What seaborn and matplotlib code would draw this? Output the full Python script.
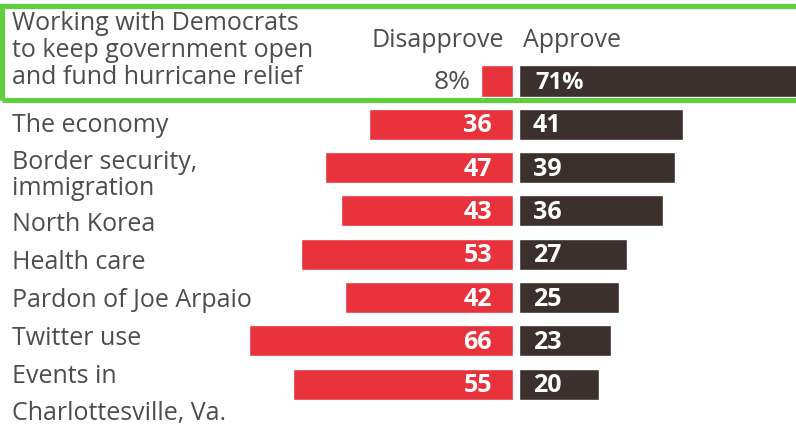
import matplotlib
matplotlib.use("Agg")
import matplotlib.pyplot as plt
import matplotlib.patches as mpatches
import seaborn as sns
import pandas as pd

# ---- data ----
categories = [
    "Working with Democrats\nto keep government open\nand fund hurricane relief",
    "The economy",
    "Border security,\nimmigration",
    "North Korea",
    "Health care",
    "Pardon of Joe Arpaio",
    "Twitter use",
    "Events in\nCharlottesville, Va.",
]
disapprove = [8, 36, 47, 43, 53, 42, 66, 55]
approve = [71, 41, 39, 36, 27, 25, 23, 20]
header_left = "Disapprove"
header_right = "Approve"

# ---- style ----
sns.set_theme(style="white")
plt.rcParams["font.family"] = ["Open Sans", "DejaVu Sans"]
RED = "#e8333d"
DARK = "#3b302d"
GRAY = "#4d4d4d"
GREEN = "#5fcf3e"

W, H = 796, 425
fig = plt.figure(figsize=(W / 100, H / 100), dpi=100)
fig.patch.set_facecolor("white")


def fx(x):
    return x / W


def fy(y):
    return 1 - y / H


PX_PER_UNIT = 4.0
ROW0 = 81.0
PITCH = 43.3
CENTER_L = 513
CENTER_R = 519

axL = fig.add_axes([0, 0, fx(CENTER_L), 1])
axR = fig.add_axes([fx(CENTER_R), 0, 1 - fx(CENTER_R), 1])

df = pd.DataFrame({"cat": categories, "dis": disapprove, "app": approve})

sns.barplot(data=df, x="dis", y="cat", orient="h", color=RED, saturation=1,
            width=0.72, ax=axL)
sns.barplot(data=df, x="app", y="cat", orient="h", color=DARK, saturation=1,
            width=0.72, ax=axR)

ylim = ((H - ROW0) / PITCH, -ROW0 / PITCH)
axL.set_xlim(CENTER_L / PX_PER_UNIT, 0)
axR.set_xlim(0, (W - CENTER_R) / PX_PER_UNIT)
for ax in (axL, axR):
    ax.set_ylim(*ylim)
    ax.axis("off")

num_fs = 18
dy = 8 / PITCH
for i, (d, a) in enumerate(zip(disapprove, approve)):
    if i == 0:
        axL.text(d + 10 / PX_PER_UNIT, i + dy, f"{d}%", ha="right", va="baseline",
                 color=GRAY, fontsize=19)
        axR.text(16 / PX_PER_UNIT, i + dy, f"{a}%", ha="left", va="baseline",
                 color="white", fontsize=17, fontweight="bold")
    else:
        axL.text(21 / PX_PER_UNIT, i + dy, f"{d}", ha="right", va="baseline",
                 color="white", fontsize=num_fs, fontweight="bold")
        axR.text(14 / PX_PER_UNIT, i + dy, f"{a}", ha="left", va="baseline",
                 color="white", fontsize=num_fs, fontweight="bold")

# category labels (one baseline per line, in px)
label_baselines = [[30, 57, 84], [132], [169, 195], [231], [269], [307], [345], [383, 420]]
lab_fs = 18
for cat, ys in zip(categories, label_baselines):
    for line, y in zip(cat.split("\n"), ys):
        fig.text(fx(12), fy(y), line, ha="left", va="baseline", color=GRAY,
                 fontsize=lab_fs)

# headers
fig.text(fx(504), fy(47), header_left, ha="right", va="baseline", color=GRAY, fontsize=lab_fs)
fig.text(fx(523), fy(47), header_right, ha="left", va="baseline", color=GRAY, fontsize=lab_fs)

# green highlight box
rect = mpatches.Rectangle((fx(2), fy(99.5)), fx(810) - fx(2), fy(6) - fy(99.5),
                          transform=fig.transFigure, fill=False, edgecolor=GREEN,
                          linewidth=3.7, zorder=10)
fig.add_artist(rect)

fig.savefig("out.png", dpi=100)
